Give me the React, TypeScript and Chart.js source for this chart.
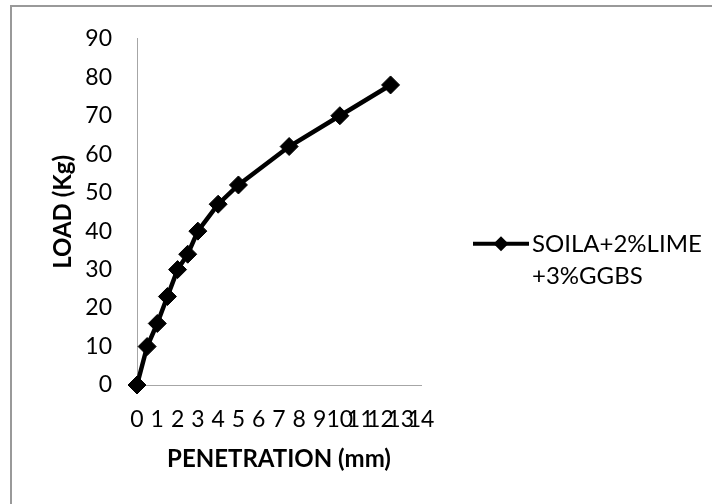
import React, { useEffect, useRef } from "react";
import { Chart, registerables } from "chart.js";

Chart.register(...registerables);

const seriesLabel = ["SOILA+2%LIME", "+3%GGBS"];
const penetration = [0, 0.5, 1, 1.5, 2, 2.5, 3, 4, 5, 7.5, 10, 12.5];
const load = [0, 10, 16, 23, 30, 34, 40, 47, 52, 62, 70, 78];
const xTitle = "PENETRATION (mm)";
const yTitle = "LOAD (Kg)";

const FONT = "Lato, 'Open Sans', sans-serif";

const legendPlugin = {
  id: "sideLegend",
  afterDraw(chart: any) {
    const { ctx, chartArea } = chart;
    const ds = chart.data.datasets[0];
    const x0 = chartArea.right + 52;
    const y0 = chartArea.top + 205;
    ctx.save();
    ctx.strokeStyle = "#000";
    ctx.lineWidth = 4;
    ctx.beginPath();
    ctx.moveTo(x0, y0);
    ctx.lineTo(x0 + 56, y0);
    ctx.stroke();
    const cx = x0 + 28;
    const r = 7.5;
    ctx.fillStyle = "#000";
    ctx.beginPath();
    ctx.moveTo(cx, y0 - r);
    ctx.lineTo(cx + r, y0);
    ctx.lineTo(cx, y0 + r);
    ctx.lineTo(cx - r, y0);
    ctx.closePath();
    ctx.fill();
    ctx.font = `24px ${FONT}`;
    ctx.textBaseline = "middle";
    ctx.textAlign = "left";
    const lines: string[] = ds.legendLines;
    lines.forEach((t, i) => ctx.fillText(t, x0 + 59, y0 + i * 32));
    ctx.restore();
  },
};

export default function App() {
  const ref = useRef<HTMLCanvasElement>(null);
  useEffect(() => {
    if (!ref.current) return;
    const chart = new Chart(ref.current, {
      type: "scatter",
      data: {
        datasets: [
          {
            label: seriesLabel.join(""),
            legendLines: seriesLabel,
            data: penetration.map((x, i) => ({ x, y: load[i] })),
            showLine: true,
            borderColor: "#000",
            backgroundColor: "#000",
            borderWidth: 4.5,
            pointStyle: "rectRot",
            pointRadius: 9,
            pointBorderWidth: 1,
            pointBackgroundColor: "#000",
            pointBorderColor: "#000",
            clip: false,
          } as any,
        ],
      },
      options: {
        responsive: false,
        animation: false,
        devicePixelRatio: 1,
        layout: { padding: { left: 40, top: 37, right: 291, bottom: 26 } },
        plugins: { legend: { display: false }, tooltip: { enabled: false } },
        scales: {
          x: {
            type: "linear",
            min: 0,
            max: 14,
            afterFit: (s: any) => {
              s.height = 504 - 26 - 385;
            },
            grid: { display: false, drawTicks: false },
            border: { display: true, color: "#a6a6a6", width: 1 },
            ticks: {
              stepSize: 1,
              autoSkip: false,
              maxRotation: 0,
              padding: 21,
              color: "#000",
              font: { family: FONT, size: 23 },
            },
            title: {
              display: true,
              text: xTitle,
              color: "#000",
              font: { family: FONT, size: 24, weight: "bold" },
              padding: { top: 4, bottom: 4 },
            },
          },
          y: {
            type: "linear",
            min: 0,
            max: 90,
            afterFit: (s: any) => {
              s.width = 137 - 40;
            },
            grid: { display: false, drawTicks: false },
            border: { display: true, color: "#a6a6a6", width: 1 },
            ticks: {
              stepSize: 10,
              padding: 25,
              color: "#000",
              font: { family: FONT, size: 23 },
            },
            title: {
              display: true,
              text: yTitle,
              color: "#000",
              font: { family: FONT, size: 24, weight: "bold" },
              padding: { top: 9, bottom: 0 },
            },
          },
        },
      },
      plugins: [legendPlugin],
    } as any);
    return () => chart.destroy();
  }, []);

  return (
    <div
      style={{
        position: "fixed",
        left: 0,
        top: 0,
        width: 712,
        height: 504,
        background: "#fff",
        overflow: "hidden",
      }}
    >
      <div
        style={{
          position: "absolute",
          left: 10,
          top: 5,
          width: 720,
          height: 520,
          border: "2px solid #999",
          boxSizing: "border-box",
        }}
      />
      <canvas
        ref={ref}
        width={712}
        height={504}
        style={{ position: "absolute", left: 0, top: 0, width: 712, height: 504 }}
      />
    </div>
  );
}
